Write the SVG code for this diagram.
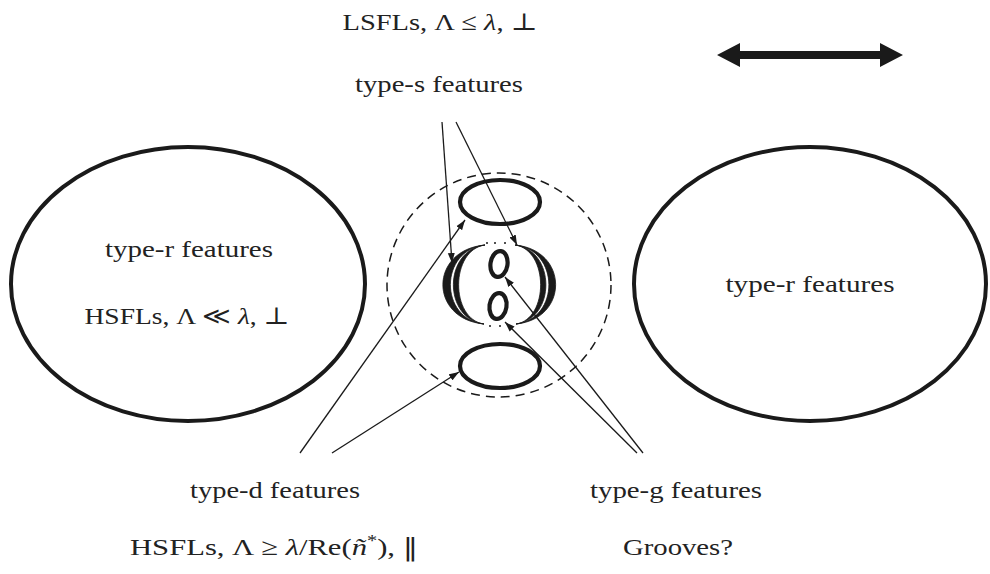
<svg xmlns="http://www.w3.org/2000/svg" width="990" height="574" viewBox="0 0 990 574">
  <style>
    .lbl { font-family: "Liberation Serif", "DejaVu Serif", serif; font-size: 24px; fill: #222; text-anchor: middle; }
    .it { font-style: italic; }
    .sym { font-family: "DejaVu Serif", serif; font-weight: normal; }
    .big { fill: none; stroke: #1a1a1a; stroke-width: 4; }
    .small { fill: none; stroke: #1a1a1a; stroke-width: 4.2; }
    .dash { fill: none; stroke: #1a1a1a; stroke-width: 1.5; stroke-dasharray: 9 6; }
    .conn { fill: none; stroke: #1a1a1a; stroke-width: 1.3; marker-end: url(#tip); }
    .ink { fill: #1a1a1a; }
    .horn { fill: #1a1a1a; stroke: #1a1a1a; stroke-width: 0.8; stroke-linejoin: miter; }
  </style>
  <defs>
    <marker id="tip" markerUnits="userSpaceOnUse" markerWidth="11" markerHeight="8" refX="10" refY="4" orient="auto">
      <path d="M0,0.5 L10,4 L0,7.5 z" fill="#1a1a1a"/>
    </marker>
  </defs>
  <rect width="990" height="574" fill="#fff"/>

  <!-- top labels -->
  <g id="lsfl-label">
    <text class="lbl" x="440" y="30" textLength="195" lengthAdjust="spacingAndGlyphs">LSFLs, Λ ≤ <tspan class="it">λ</tspan>, <tspan class="sym">⊥</tspan></text>
  </g>
  <g id="type-s-label">
    <text class="lbl" x="439" y="92" textLength="168" lengthAdjust="spacingAndGlyphs">type-s features</text>
  </g>

  <!-- polarization double arrow -->
  <g id="polarization">
    <polygon class="ink" points="717,55 740,43 740,51 880,51 880,43 903,55 880,67 880,59 740,59 740,67"/>
  </g>

  <!-- left region -->
  <g id="type-r-left">
    <ellipse class="big" cx="188" cy="284" rx="177" ry="137"/>
    <text class="lbl" x="189" y="257" textLength="168" lengthAdjust="spacingAndGlyphs">type-r features</text>
    <text class="lbl" x="187" y="324" textLength="205" lengthAdjust="spacingAndGlyphs">HSFLs, Λ <tspan class="sym">≪</tspan> <tspan class="it">λ</tspan>, <tspan class="sym">⊥</tspan></text>
  </g>

  <!-- right region -->
  <g id="type-r-right">
    <ellipse class="big" cx="810" cy="284" rx="176" ry="137"/>
    <text class="lbl" x="810" y="292" textLength="169" lengthAdjust="spacingAndGlyphs">type-r features</text>
  </g>

  <!-- central spot -->
  <g id="spot">
    <circle class="dash" cx="499" cy="285" r="112"/>
  </g>
  <g id="type-s-ring">
    <ellipse class="small" cx="500" cy="202" rx="40" ry="22"/>
  </g>
  <g id="type-d-ring">
    <ellipse class="small" cx="500" cy="366" rx="40" ry="22"/>
  </g>
  <g id="crescents">
    <path class="horn" d="M485,245 C429,250 429,319 484,324 C439,319 439,250 485,245 z"/>
    <path class="horn" d="M485,245 C443,250 443,319 484,324 C450,319 450,250 485,245 z"/>
    <path class="horn" d="M515,245 C569,250 569,319 516,324 C560,319 560,250 515,245 z"/>
    <path class="horn" d="M515,245 C556,250 556,319 516,324 C549,319 549,250 515,245 z"/>
    <circle class="ink" cx="487" cy="243" r="1"/>
    <circle class="ink" cx="495" cy="243" r="1"/>
    <circle class="ink" cx="505" cy="243" r="1"/>
    <circle class="ink" cx="490" cy="326" r="1"/>
    <circle class="ink" cx="500" cy="326" r="1"/>
    <circle class="ink" cx="510" cy="326" r="1"/>
  </g>
  <g id="grooves">
    <ellipse class="small" cx="499" cy="264" rx="8.5" ry="13" transform="rotate(8 499 264)"/>
    <ellipse class="small" cx="498" cy="306" rx="8.5" ry="13" transform="rotate(8 498 306)"/>
  </g>

  <!-- bottom labels -->
  <g id="type-d-label">
    <text class="lbl" x="275" y="498" textLength="170" lengthAdjust="spacingAndGlyphs">type-d features</text>
    <text class="lbl" x="274" y="555" textLength="288" lengthAdjust="spacingAndGlyphs">HSFLs, Λ ≥ <tspan class="it">λ</tspan>/Re(<tspan class="it">ñ</tspan><tspan font-size="16" dy="-9">*</tspan><tspan dy="9">), </tspan><tspan class="sym">‖</tspan></text>
  </g>
  <g id="type-g-label">
    <text class="lbl" x="676" y="498" textLength="172" lengthAdjust="spacingAndGlyphs">type-g features</text>
    <text class="lbl" x="678" y="555" textLength="110" lengthAdjust="spacingAndGlyphs">Grooves?</text>
  </g>

  <!-- connectors -->
  <g id="connectors">
    <line class="conn" x1="442" y1="122" x2="452" y2="263"/>
    <line class="conn" x1="456" y1="122" x2="517" y2="245"/>
    <line class="conn" x1="300" y1="453" x2="465" y2="220"/>
    <line class="conn" x1="332" y1="453" x2="459" y2="372"/>
    <line class="conn" x1="643" y1="453" x2="505" y2="277"/>
    <line class="conn" x1="637" y1="453" x2="505" y2="322"/>
  </g>
</svg>
